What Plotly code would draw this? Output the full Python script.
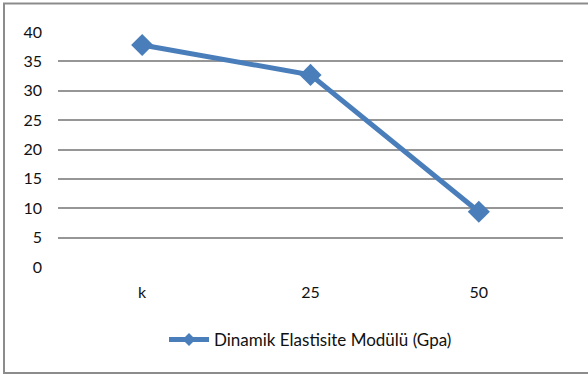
import plotly.graph_objects as go

categories = ["k", "25", "50"]
modulus_gpa = [37.8, 32.7, 9.4]
y_ticks = [0, 5, 10, 15, 20, 25, 30, 35, 40]
series_name = "Dinamik Elastisite Modülü (Gpa)"

W, H = 588, 374
L, R, T, B = 58, 25, 32, 107
pw, ph = W - L - R, H - T - B

def px_x(p):
    return (p - L) / pw

def px_y(p):
    return (H - B - p) / ph

font = dict(family="Lato, Open Sans, sans-serif", size=16, color="#111111")
legend_font = dict(family="Lato, Open Sans, sans-serif", size=17, color="#111111")
blue = "#4a7ebb"

fig = go.Figure()
fig.add_trace(go.Scatter(
    x=categories, y=modulus_gpa, name=series_name,
    mode="lines+markers",
    line=dict(color=blue, width=5),
    marker=dict(symbol="diamond", size=17, color=blue),
    legendgroup="s", showlegend=False,
))
# legend entry with a smaller diamond on the line sample
fig.add_trace(go.Scatter(
    x=[None], y=[None], name=series_name,
    mode="lines+markers",
    line=dict(color=blue, width=5),
    marker=dict(symbol="diamond", size=10, color=blue),
    legendgroup="s", showlegend=True,
))

fig.update_layout(
    width=W, height=H,
    margin=dict(l=L, r=R, t=T, b=B),
    paper_bgcolor="white", plot_bgcolor="white",
    font=font,
    showlegend=True,
    legend=dict(orientation="h", x=0.5, xanchor="center", y=px_y(340), yanchor="middle",
                font=legend_font, itemwidth=40),
    xaxis=dict(type="category", showgrid=False, zeroline=False, showline=False,
               ticks="", ticklabelstandoff=14, tickfont=font, range=[-0.5, 2.5]),
    yaxis=dict(range=[0, 40], tickvals=y_ticks, showgrid=True, gridcolor="#969696",
               gridwidth=2, zeroline=False, showline=False, ticks="",
               ticklabelstandoff=15, tickfont=font),
    shapes=[dict(type="rect", xref="paper", yref="paper",
                 x0=px_x(4), x1=px_x(592), y0=px_y(373), y1=px_y(3.5),
                 line=dict(color="#8c8c8c", width=2), layer="below")],
)

fig.write_html("out.html")
